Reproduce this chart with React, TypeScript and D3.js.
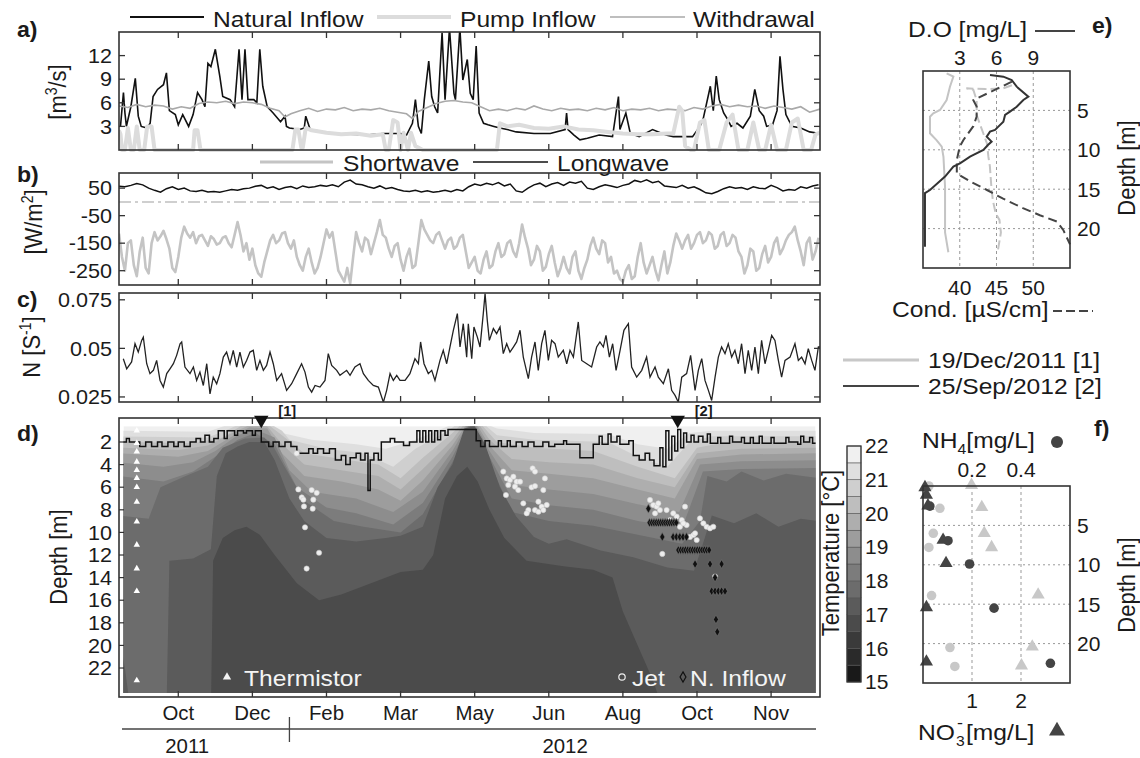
import React from "react";
import * as d3 from "d3";

const FONT = "'Liberation Sans', Arial, Helvetica, sans-serif";
const SX = 1.12;

// ---------- time axis ----------
const START = new Date(2011, 8, 14);
const END = new Date(2012, 11, 30);
const toDate = (d: number) => new Date(START.getTime() + d * 86400000);
const parse = d3.timeParse("%Y-%m-%d");
const MONTH_TICKS = ["2011-10-24", "2011-12-13", "2012-02-01", "2012-03-22", "2012-05-11", "2012-06-30", "2012-08-19", "2012-10-08", "2012-11-27"];
const PROFILE_DATES = ["2011-12-19", "2012-09-25"];
const PROFILE_LABELS = ["19/Dec/2011 [1]", "25/Sep/2012 [2]"];
const YEAR_LABELS = [["2011", "2011-10-30"], ["2012", "2012-07-11"]];
const YEAR_DIVIDER = "2012-01-07";

// ---------- a) flows [day, m3/s] ----------
const NATURAL: [number, number][] = [[1,3],[3,7.3],[4,4.7],[5,3],[8,5.5],[11,9.1],[13,4.3],[15,3],[19,2.8],[21,3.4],[23,6.8],[26,7.7],[30,8.3],[32,9.8],[34,5],[38,4.5],[40,3.2],[43,4.5],[47,3],[50,4.5],[53,7.3],[56,6.4],[58,5.5],[60,11],[62,10.6],[65,12.8],[68,9.4],[70,6.8],[75,6.4],[78,5.5],[81,12.8],[83,6.4],[85,12.8],[87,6.4],[91,6.4],[93,6],[95,12.8],[97,8.1],[100,5.5],[104,4.7],[109,3.6],[112,4.3],[113,3],[115,2.8],[122,2.6],[125,2.8],[126,4.3],[129,2.6],[145,2.1],[167,1.9],[178,2.1],[190,2.1],[194,1.9],[198,3.4],[200,6.4],[202,3],[204,2.1],[206,6.4],[209,11.3],[211,6.8],[213,5.5],[215,4.7],[218,14.9],[220,6.4],[223,15.5],[226,7.2],[227,6.4],[230,15.5],[232,8.9],[235,11.5],[237,7.2],[239,6.4],[241,13.2],[243,4.7],[246,3.4],[249,3.2],[253,3],[257,2.8],[262,2.6],[268,2.3],[280,2.1],[291,2.1],[301,2.6],[302,4.7],[303,2.6],[307,1.9],[311,1.3],[316,1.5],[324,1.9],[333,1.7],[337,6.8],[338,2.6],[342,4.7],[345,2.1],[351,1.7],[360,2.6],[369,1.9],[374,1.7],[387,1.7],[392,3],[394,3.8],[399,8.1],[401,5],[403,9.4],[405,6.4],[408,4.7],[411,3.8],[413,3],[417,3.4],[421,2.8],[426,4.3],[429,7.7],[432,5],[435,4.3],[437,3],[441,3.2],[444,5],[446,11.9],[448,7.7],[450,4.5],[454,3],[460,2.8],[466,2.3],[473,2.1]];
const PUMP: [number, number][] = [[0,2.5],[1,2],[2,0],[4,0],[6,2.8],[8,0],[10,0],[12,3],[14,0],[17,0],[19,3],[22,3],[24,0],[50,0],[51,2.5],[53,2.5],[55,0],[117,0],[119,2.6],[121,2.6],[123,0.3],[124,0.3],[126,2.8],[130,2.5],[140,2.2],[150,2.0],[160,2.1],[170,1.8],[178,2.0],[180,0],[182,0],[185,3.8],[188,3.5],[190,0],[192,2.2],[195,0],[197,2.2],[200,0.5],[205,0],[255,0],[257,3.4],[262,3.0],[270,3.2],[280,2.8],[290,2.7],[300,3.0],[310,2.6],[320,2.5],[330,2.3],[340,2.1],[350,2.0],[360,2.0],[370,2.1],[374,2.1],[378,5.5],[380,5],[382,0.5],[386,0],[388,0],[392,3.5],[395,3.8],[398,0],[405,0],[410,3.5],[414,4.5],[418,0],[424,0],[428,3.5],[432,0],[436,0],[440,3.2],[444,0],[450,0],[454,3.5],[458,4.0],[462,0],[467,0],[470,2.0],[473,2.2]];
const WITHDRAWAL: [number, number][] = [[0,5.6],[6,5.4],[12,5.8],[18,5.5],[24,5.7],[30,5.6],[36,5.2],[42,5.5],[48,5.3],[54,5.9],[60,6.1],[66,6.0],[72,6.2],[78,5.9],[84,6.1],[90,6.0],[96,5.8],[102,5.3],[108,5.0],[112,4.2],[116,4.6],[122,5.0],[128,5.3],[134,4.9],[140,5.2],[146,5.1],[152,5.4],[158,5.0],[164,5.2],[170,5.1],[176,5.3],[182,5.0],[188,4.8],[194,4.6],[198,4.0],[202,4.9],[208,5.4],[214,5.9],[220,6.2],[226,6.3],[232,6.1],[238,6.0],[244,5.5],[250,5.0],[256,5.2],[262,5.0],[268,5.3],[274,5.1],[280,5.6],[286,5.2],[292,5.0],[298,5.3],[304,5.1],[310,5.2],[316,5.0],[322,5.3],[328,5.1],[334,5.4],[340,5.0],[346,5.2],[352,5.1],[358,5.3],[364,5.0],[370,5.2],[376,5.1],[382,5.0],[388,5.4],[394,5.2],[400,5.6],[406,5.8],[412,5.5],[418,5.7],[424,5.5],[430,5.6],[436,5.3],[442,5.6],[448,5.4],[454,5.2],[460,5.5],[466,4.8],[473,5.2]];

// ---------- b) radiation [W/m2] ----------
const SW_STEP = 2; // one value every 2 days
const SHORTWAVE = [-115,-200,-250,-150,-140,-230,-270,-180,-130,-240,-260,-150,-110,-140,-125,-105,-135,-170,-240,-255,
  -200,-130,-90,-115,-130,-110,-150,-125,-120,-140,-160,-125,-135,-155,-150,-130,-125,-150,-165,-120,
  -73,-120,-180,-150,-210,-170,-230,-260,-272,-220,-180,-140,-120,-150,-140,-115,-110,-150,-170,-140,
  -200,-230,-250,-200,-170,-220,-260,-240,-200,-150,-100,-130,-110,-180,-250,-270,-290,-240,-297,-200,
  -110,-150,-180,-130,-140,-190,-150,-110,-66,-120,-130,-170,-200,-160,-150,-210,-250,-200,-170,-240,
  -230,-150,-66,-100,-120,-140,-150,-120,-110,-140,-170,-140,-130,-170,-160,-130,-120,-180,-240,-220,
  -200,-250,-260,-210,-180,-240,-230,-180,-150,-200,-190,-150,-140,-180,-200,-150,-82,-130,-170,-230,
  -210,-160,-180,-250,-236,-190,-160,-220,-270,-240,-200,-240,-260,-200,-180,-250,-280,-240,-210,-160,
  -130,-170,-190,-140,-150,-220,-200,-260,-250,-280,-290,-250,-230,-280,-270,-200,-150,-220,-260,-230,
  -200,-250,-285,-230,-180,-260,-220,-160,-115,-140,-170,-140,-120,-170,-150,-120,-110,-150,-140,-110,
  -120,-170,-160,-120,-110,-160,-150,-120,-130,-180,-200,-260,-230,-170,-180,-250,-240,-190,-160,-220,
  -200,-150,-130,-190,-170,-140,-120,-110,-90,-140,-180,-230,-150,-130,-210,-180,-130];
const LW_STEP = 4; // one value every 4 days
const LONGWAVE = [57,55,60,67,62,50,42,35,48,55,45,50,40,38,42,36,38,35,40,45,42,48,50,57,60,50,55,45,52,56,48,58,52,55,60,57,62,55,72,79,65,62,55,50,58,48,52,45,40,38,42,36,40,35,38,42,37,45,40,55,65,60,68,62,70,58,65,40,35,50,62,68,55,65,70,60,72,68,75,50,45,55,62,58,52,60,65,78,72,80,70,75,58,55,52,60,50,55,45,33,30,38,48,55,50,52,45,55,50,48,60,52,40,45,42,55,50,58,62];

// ---------- c) buoyancy frequency [day, 1/s] ----------
const NFREQ: [number, number][] = [[2.9,0.0447],[5.2,0.0395],[8.5,0.043],[10.8,0.0524],[13,0.0481],[15.3,0.0541],[16.4,0.0558],[18.7,0.0421],[20.9,0.037],[23.2,0.0387],[25.4,0.0438],[27.7,0.0335],[29.9,0.0301],[32.2,0.037],[34.4,0.0395],[36.7,0.0421],[38.9,0.0464],[41.2,0.0524],[42.3,0.0533],[44.5,0.0404],[47.9,0.037],[50.2,0.0404],[52.4,0.0335],[54.6,0.0378],[56.9,0.0309],[59.2,0.0421],[61.4,0.0266],[63.6,0.0352],[65.9,0.0318],[68.1,0.037],[70.4,0.0455],[72.6,0.0481],[74.9,0.0421],[77.1,0.049],[79.4,0.0404],[81.6,0.0481],[83.9,0.0404],[86.1,0.0438],[88.4,0.0481],[90.6,0.049],[92.9,0.0387],[95.1,0.0438],[97.4,0.0387],[99.6,0.0412],[101.9,0.0481],[104.1,0.0421],[106.4,0.0335],[109.7,0.037],[113.1,0.0284],[116.5,0.0318],[119.9,0.037],[123.2,0.0421],[125.5,0.0378],[127.8,0.0301],[130,0.0275],[132.3,0.0309],[135.6,0.0301],[139,0.0335],[141.2,0.0473],[143.5,0.0412],[146.9,0.0387],[149.1,0.0361],[153.6,0.0387],[155.9,0.0361],[159.2,0.0404],[162.6,0.0421],[164.9,0.037],[168.2,0.0335],[171.6,0.0309],[175,0.0301],[178.4,0.0223],[180.6,0.0284],[182.9,0.037],[185.1,0.0335],[187.4,0.0361],[189.6,0.0335],[193,0.0335],[196.3,0.037],[199.7,0.0447],[202,0.0421],[203.5,0.0533],[205.8,0.0421],[208.7,0.037],[211,0.0387],[213.2,0.0335],[216.6,0.0438],[218.8,0.049],[221.1,0.0421],[223.3,0.0507],[225.6,0.0593],[228.3,0.0679],[230.1,0.0507],[232.3,0.0627],[234.6,0.0455],[235.7,0.0627],[238,0.0447],[239.5,0.061],[241.8,0.0558],[243.6,0.0507],[245.8,0.0679],[247,0.0782],[248.5,0.0644],[249.9,0.0541],[252.6,0.0602],[254.8,0.0576],[257.1,0.061],[259.3,0.0473],[261.6,0.0524],[263.8,0.0481],[266.1,0.0507],[268.3,0.0533],[270.6,0.0593],[272.8,0.0455],[276.2,0.0344],[278.4,0.0455],[280.7,0.0533],[282.9,0.0387],[285.2,0.0524],[287.4,0.0593],[289.7,0.0438],[291.9,0.0541],[294.2,0.0524],[296.4,0.0455],[299.8,0.049],[302.1,0.0421],[304.3,0.049],[306.6,0.0455],[309.9,0.0636],[312.2,0.0438],[315.6,0.0421],[318.9,0.0404],[322.3,0.0507],[324.5,0.0533],[326.8,0.0507],[328.6,0.0567],[330.9,0.0455],[333.1,0.0524],[335.4,0.0387],[338.1,0.049],[340.7,0.0593],[343.7,0.0627],[345.9,0.0404],[349.3,0.0352],[352.7,0.0387],[356,0.0455],[358.3,0.0352],[361.7,0.0404],[363.9,0.0352],[367.3,0.0318],[370.7,0.0395],[372.9,0.0284],[375.2,0.0258],[377.4,0.0223],[379.7,0.0352],[383,0.037],[385.7,0.0464],[388.7,0.0284],[390.9,0.0387],[393.2,0.0447],[395.4,0.0335],[397.7,0.0284],[399.9,0.0232],[402.2,0.0352],[404.4,0.0455],[406.6,0.0507],[408.9,0.0473],[411.1,0.0524],[413.4,0.0455],[415.6,0.049],[417.9,0.0421],[420.1,0.0524],[422.4,0.037],[424.6,0.049],[426.9,0.0387],[429.1,0.0507],[431.4,0.037],[433.6,0.0541],[435.9,0.0421],[438.1,0.049],[440.4,0.0567],[442.6,0.0541],[444.9,0.0438],[447.1,0.0352],[449.4,0.0438],[452.8,0.0455],[456.1,0.0524],[458.4,0.0438],[460.6,0.0455],[462.9,0.0421],[465.1,0.0498],[467.4,0.0438],[469.6,0.0387],[471.9,0.0507],[473,0.0507]];

// ---------- d) isotherm depths [day, m] ----------
const ISO_215: [number, number][] = [[0,1.0],[60,1.1],[75,0.4],[85,0.1],[100,0.1],[110,1.2],[130,1.8],[160,2.2],[180,2.6],[200,1.8],[222,0.6],[240,0],[255,0.8],[280,1.2],[330,1.3],[350,2.2],[370,2.6],[385,1.2],[400,1.0],[473,1.0]];
const ISO_21: [number, number][] = [[0,1.5],[60,1.6],[75,0.8],[85,0.2],[100,0.25],[110,1.0],[115,1.8],[140,2.6],[165,3.0],[185,4.2],[200,2.6],[222,1.0],[238,-0.5],[255,1.4],[280,1.8],[330,2.0],[350,3.3],[370,4.2],[385,2.0],[400,1.5],[473,1.5]];
const ISO_205: [number, number][] = [[0,2.0],[50,2.1],[70,1.6],[85,0.35],[100,0.4],[110,1.4],[125,3.0],[150,3.5],[175,4.0],[190,5.2],[205,3.4],[225,1.2],[238,-0.5],[255,2.0],[280,2.5],[320,2.8],[350,4.2],[375,5.2],[390,2.5],[410,2.0],[473,2.0]];
const ISO_20: [number, number][] = [[0,2.5],[40,2.7],[60,2.3],[75,1.3],[88,0.5],[100,0.6],[110,2.2],[125,4.0],[150,4.5],[175,5.0],[190,6.2],[205,4.4],[225,1.8],[238,-0.5],[250,1.8],[265,3.5],[290,3.8],[320,4.0],[350,5.2],[375,6.0],[390,3.0],[420,2.6],[473,2.5]];
const ISO_195: [number, number][] = [[0,3.0],[40,3.3],[60,2.8],[75,1.6],[88,0.7],[100,0.8],[110,3.0],[125,5.0],[150,5.5],[175,6.2],[190,7.2],[205,5.4],[225,2.3],[238,-0.3],[250,2.3],[265,4.5],[290,4.8],[320,5.2],[350,6.2],[375,7.0],[390,3.5],[420,3.1],[473,3.0]];
const ISO_19: [number, number][] = [[0,3.8],[30,4.2],[50,3.8],[65,2.8],[80,1.4],[92,0.9],[105,1.6],[115,4.5],[130,6.4],[160,7.0],[185,8.2],[205,6.4],[225,2.8],[238,-0.2],[250,2.8],[265,5.8],[290,6.2],[320,6.6],[350,7.5],[378,8.2],[392,4.0],[420,3.7],[473,3.6]];
const ISO_185: [number, number][] = [[0,5.0],[30,5.5],[50,4.6],[65,3.3],[80,1.8],[92,1.2],[105,2.2],[120,6.0],[140,7.8],[160,8.3],[185,9.3],[205,7.4],[225,3.3],[238,0],[250,3.3],[265,7.0],[290,7.6],[320,8.0],[350,9.0],[380,9.6],[394,4.6],[420,4.4],[473,4.3]];
const ISO_18: [number, number][] = [[0,8.5],[20,8.8],[28,6.0],[45,5.0],[60,4.2],[70,2.5],[85,1.7],[98,1.6],[105,2.6],[110,3.8],[125,7.2],[145,9.0],[165,9.5],[190,10.0],[205,8.4],[225,3.8],[238,0.3],[250,3.8],[265,8.2],[290,9.0],[320,9.4],[350,10.2],[380,11.0],[392,9.0],[397,5.0],[410,5.5],[420,4.6],[435,5.4],[450,4.8],[473,5.2]];
const ISO_175: [number, number][] = [[0,19],[4,22],[8,26],[32,26],[34,12.5],[50,12.3],[62,11.5],[66,5.0],[72,3.0],[80,2.4],[88,2.0],[98,2.0],[105,3.6],[115,7.0],[125,9.0],[140,10.5],[160,10.8],[180,10.5],[190,10.3],[205,9.5],[215,6.0],[225,4.0],[233,0.8],[240,0.6],[247,2.2],[257,6.0],[268,8.6],[280,10.4],[290,11.0],[302,10.6],[325,11.6],[347,12.2],[370,13.1],[388,13.4],[394,11],[400,8.5],[415,9.2],[430,8.3],[445,9.5],[460,8.8],[473,9.0]];
const ISO_17: [number, number][] = [[0,26],[62,26],[63.5,12.5],[70,10.5],[78,9.8],[86,9.5],[95,10.2],[105,12],[120,14.5],[135,16],[150,15.5],[170,14.5],[190,13.5],[205,13.3],[212,12],[220,7],[228,5],[235,4.2],[242,5.5],[250,8],[260,10.5],[275,12.5],[300,13],[320,13.3],[333,14],[340,17],[350,20],[360,23],[368,26],[473,26]];
const ISOTHERMS: [number, [number, number][]][] = [[21.5, ISO_215], [21, ISO_21], [20.5, ISO_205], [20, ISO_20], [19.5, ISO_195], [19, ISO_19], [18.5, ISO_185], [18, ISO_18], [17.5, ISO_175], [17, ISO_17]];
const CB_LEVELS = d3.range(15, 22.001, 0.5);
const CB_LABELS = [15, 16, 17, 18, 19, 20, 21, 22];

// mixed layer depth [day, m]
const MLD: [number, number][] = [[0,2.0],[5,1.7],[7,2.0],[14,2.4],[18,2.0],[22,2.4],[26,2.0],[29,2.4],[33,2.0],[37,2.4],[40,2.0],[44,2.4],[48,2.0],[52,1.7],[55,2.0],[58,1.4],[61,2.0],[64,1.7],[67,1.0],[71,1.7],[73,1.0],[78,1.4],[80,1.0],[84,1.2],[86,1.0],[90,1.4],[92,1.0],[96,2.0],[101,2.4],[104,2.0],[108,2.4],[112,2.0],[116,2.4],[120,3.0],[128,2.6],[131,3.0],[134,2.6],[138,3.0],[142,2.6],[146,3.6],[150,3.2],[153,4.0],[156,3.4],[160,3.0],[163,3.6],[166,3.0],[168,6.3],[169.5,3.6],[172,3.0],[175,3.6],[177,2.0],[183,1.7],[186,2.0],[192,2.3],[196,2.0],[201,1.0],[203,2.0],[205,1.0],[207,2.0],[209,1.0],[211,2.0],[213,1.0],[215,1.8],[217,1.0],[220,1.4],[222,0.9],[241,1.9],[244,2.4],[247,1.9],[250,2.4],[256,1.9],[258,2.4],[262,1.9],[264,2.4],[268,2.0],[272,2.4],[276,2.0],[280,2.4],[286,2.0],[290,2.4],[294,2.2],[300,1.9],[302,2.2],[311,3.4],[320,2.2],[324,1.5],[326,2.2],[330,1.3],[332,2.0],[336,1.5],[338,2.2],[344,1.9],[347,3.2],[351,3.6],[355,3.0],[358,3.6],[361,4.1],[365,2.5],[367,4.2],[369,1.0],[371,3.6],[373,1.5],[375,2.8],[377,0.9],[379,2.5],[381,1.2],[383,2.0],[386,1.4],[388,2.0],[391,1.5],[394,2.0],[397,1.3],[399,2.1],[404,1.6],[406,2.1],[412,1.5],[414,2.0],[420,1.6],[422,2.1],[426,1.6],[428,2.1],[432,1.5],[434,2.1],[440,1.6],[442,2.1],[450,1.6],[452,2.0],[458,2.2],[460,1.5],[462,2.0],[466,1.6],[468,2.1],[473,2.1]];

const THERMISTOR_DAY = 12;
const THERMISTOR_DEPTHS = [1.0, 2.1, 2.85, 3.75, 4.5, 5.2, 6.0, 7.3, 9.05, 11.1, 13.2, 15.2, 23.1];
const JET: [number, number][] = [[119.9,3.0],[121,6.2],[123.3,6.9],[124.4,7.1],[124.8,7.7],[130,6.25],[133.4,6.5],[131.1,7.1],[130.7,7.9],[125.5,9.55],[135,11.8],[126.6,13.2],[259.3,4.62],[261.6,5.22],[263.8,5.36],[266.1,5.07],[268.3,5.51],[270.6,5.51],[262.7,5.8],[267.2,5.95],[269.4,6.25],[279.1,4.33],[280.7,4.62],[287.4,5.22],[278.4,6.01],[280.7,5.9],[286.3,6.25],[261.1,6.69],[272.8,7.43],[276.2,8.02],[275.1,8.31],[280.7,8.02],[283,7.28],[285.2,7.72],[288.6,7.57],[286.3,8.02],[283,8.17],[358.3,7.13],[360.5,7.58],[362.8,7.72],[363.9,7.43],[365,8.02],[361.7,8.31],[369.5,8.02],[374,8.31],[376.3,8.6],[379.7,8.9],[381.9,7.72],[383,9.35],[385.3,10.4],[387.5,10.23],[389.8,10.67],[388.7,10.08],[392,8.76],[394.3,9.2],[396.5,9.5],[398.8,9.64],[401,9.5],[366.6,11.9],[371.8,8.9],[375.2,9.2],[378.5,9.5],[380.8,9.2],[402.2,13.9]];
const NINFLOW: [number, number][] = [[357.2,7.9],[358,9.14],[359.5,9.14],[361,9.14],[362.5,9.14],[364,9.14],[365.5,9.14],[367,9.14],[368.5,9.14],[370,9.14],[371.5,9.14],[373,9.14],[374.5,9.14],[376,9.14],[366.6,10.4],[373.9,10.4],[376.1,10.4],[378.4,10.4],[380.6,10.4],[382.9,10.4],[377.4,11.56],[379,11.56],[380.6,11.56],[382.2,11.56],[383.8,11.56],[385.4,11.56],[387,11.56],[388.6,11.56],[390.2,11.56],[391.8,11.56],[393.4,11.56],[395,11.56],[396.6,11.56],[398.2,11.56],[388.7,12.8],[398.8,12.8],[406.6,12.8],[402.2,14],[399.9,15.2],[402.2,15.2],[404.4,15.2],[406.6,15.2],[408.9,15.2],[402.8,17.7],[403.7,18.8]];

// ---------- e) profiles [value, depth] ----------
const DO_1: [number, number][] = [[1.93,0.3],[2.48,0.7],[2.2,1.99],[1.93,3.68],[1.39,4.95],[0.84,5.37],[0.57,5.8],[0.57,7.9],[1.12,8.8],[1.53,9.6],[1.67,10.9],[1.8,14.7],[1.8,20.5],[2.07,23.0]];
const DO_2: [number, number][] = [[5.47,0.5],[6.56,0.72],[7.24,1.14],[7.65,1.99],[8.6,3.26],[8.19,3.68],[7.65,4.53],[7.1,5.16],[6.7,5.58],[6.56,6.43],[6.15,7.06],[5.88,7.48],[5.47,7.69],[5.2,8.33],[5.6,8.96],[5.3,9.39],[4.93,10.02],[3.84,10.87],[3.02,11.72],[2.48,12.14],[1.8,13.4],[0.57,15.1],[0.16,15.5],[0.16,22.3]];
const COND_1: [number, number][] = [[47.1,1.8],[45.9,2.2],[43.5,2.3],[40.9,2.2],[41.85,2.4],[42.3,3.7],[42.3,5.6],[43.2,7.9],[43.7,9.2],[43.9,10.9],[44.1,12.1],[44.3,14.7],[44.5,16.4],[44.9,18.1],[45.4,18.9],[45.6,20.5],[45.2,22.7]];
const COND_2: [number, number][] = [[47.1,1.35],[41.85,3.7],[42.3,4.5],[42.3,5.8],[41.85,7.0],[40.5,8.75],[40.0,9.6],[39.6,11.3],[39.6,13.0],[41.4,14.0],[43.7,15.1],[45.9,16.2],[48.6,17.4],[50.9,18.3],[53.2,19.1],[54.1,20.2],[54.5,21.0],[55,22.0]];

// ---------- f) nutrients [value, depth] ----------
const NH4_1: [number, number][] = [[0.024,0],[0.069,2.83],[0.042,6.0],[0.024,7.8],[0.035,13.9],[0.11,20.5],[0.13,22.9]];
const NH4_2: [number, number][] = [[0.028,2.55],[0.102,6.94],[0.19,9.9],[0.29,15.5],[0.52,22.5]];
const NO3_1: [number, number][] = [[0.99,-0.1],[1.2,2.7],[1.25,6.0],[1.4,7.8],[2.35,13.8],[2.23,20.4],[2.01,22.8]];
const NO3_2: [number, number][] = [[0.04,0.17],[0.07,1.14],[0.1,2.5],[0.41,6.85],[0.47,9.8],[0.07,15.4],[0.07,22.3]];

// ---------- helpers ----------
function T(p: any) {
  const { x, y, size = 20, anchor = "start", weight = 400, fill = "#1a1a1a", rot = 0, base, sx = SX, children } = p;
  const tr = rot ? `translate(${x},${y}) rotate(${rot}) scale(1,${sx})` : `translate(${x},${y}) scale(${sx},1)`;
  return (
    <text transform={tr} fontSize={size} textAnchor={anchor} fontWeight={weight} fill={fill} fontFamily={FONT} dominantBaseline={base}>
      {children}
    </text>
  );
}

const grayBand = (i: number) => {
  const g = Math.round(25 + 16.5 * i);
  return `rgb(${g},${g},${g})`;
};

export default function App() {
  const X0 = 119, X1 = 820;
  const x = d3.scaleTime().domain([START, END]).range([X0, X1]);
  const xd = (d: number) => x(toDate(d));
  const ticks = MONTH_TICKS.map((s) => parse(s) as Date);
  const fmt = d3.timeFormat("%b");

  const A = { top: 32, bot: 150 };
  const B = { top: 173, bot: 285 };
  const C = { top: 293, bot: 402 };
  const D = { top: 418, bot: 697 };
  const yA = d3.scaleLinear().domain([0, 15]).range([A.bot, A.top]);
  const yB = d3.scaleLinear().domain([-302, 105]).range([B.bot, B.top]);
  const yC = d3.scaleLinear().domain([0.0224, 0.0785]).range([C.bot, C.top]);
  const yD = d3.scaleLinear().domain([0, 24.6]).range([419.4, 697.4]);

  const lineA = d3.line<[number, number]>().x((d) => xd(d[0])).y((d) => yA(d[1]));
  const lineSW = d3.line<number>().x((_, i) => xd(i * SW_STEP)).y((d) => yB(d));
  const lineLW = d3.line<number>().x((_, i) => xd(i * LW_STEP)).y((d) => yB(d));
  const lineC = d3.line<[number, number]>().x((d) => xd(d[0])).y((d) => yC(d[1]));
  const mldLine = d3.line<[number, number]>().x((d) => xd(d[0])).y((d) => yD(d[1])).curve(d3.curveStepAfter);
  const isoArea = d3.area<[number, number]>().x((d) => xd(d[0])).y0((d) => yD(d[1])).y1(yD(26));

  const fieldX0 = xd(3), fieldX1 = xd(470), fieldY0 = yD(0.6), fieldY1 = yD(24.2);

  const xTicksFor = (top: number, bot: number) =>
    ticks.map((t, i) => (
      <g key={i}>
        <line x1={x(t)} x2={x(t)} y1={top} y2={top + 6} stroke="#333" strokeWidth={1.3} />
        <line x1={x(t)} x2={x(t)} y1={bot} y2={bot - 6} stroke="#333" strokeWidth={1.3} />
      </g>
    ));
  const yTicksFor = (vals: number[], ys: any, labels: string[], both = true) =>
    vals.map((v, i) => (
      <g key={i}>
        <line x1={X0} x2={X0 + 6} y1={ys(v)} y2={ys(v)} stroke="#333" strokeWidth={1.3} />
        {both && <line x1={X1} x2={X1 - 6} y1={ys(v)} y2={ys(v)} stroke="#333" strokeWidth={1.3} />}
        <T x={112} y={ys(v)} anchor="end" base="central" size={20} sx={1.08}>{labels[i]}</T>
      </g>
    ));
  const box = (top: number, bot: number) => (
    <rect x={X0} y={top} width={X1 - X0} height={bot - top} fill="none" stroke="#333" strokeWidth={1.6} />
  );

  // right panels
  const EX0 = 923, EX1 = 1070;
  const xDO = d3.scaleLinear().domain([0, 12]).range([EX0, EX1]);
  const xCond = d3.scaleLinear().domain([35, 55]).range([EX0, EX1]);
  const yE = d3.scaleLinear().domain([0, 25]).range([71, 268]);
  const xNH4 = d3.scaleLinear().domain([0, 0.6]).range([EX0, EX1]);
  const xNO3 = d3.scaleLinear().domain([0, 3]).range([EX0, EX1]);
  const yF = d3.scaleLinear().domain([0, 25]).range([486, 683]);
  const lineDO = d3.line<[number, number]>().x((d) => xDO(d[0])).y((d) => yE(d[1]));
  const lineCond = d3.line<[number, number]>().x((d) => xCond(d[0])).y((d) => yE(d[1]));
  const yCB = d3.scaleLinear().domain([15, 22]).range([682, 446]);

  const tri = d3.symbol().type(d3.symbolTriangle);
  const dia = d3.symbol().type(d3.symbolDiamond);
  const depthTicks = [5, 10, 15, 20];

  return (
    <svg width={1140} height={758} style={{ position: "absolute", left: 0, top: 0, display: "block" }} xmlns="http://www.w3.org/2000/svg">
      <rect width={1140} height={758} fill="#fff" />
      <defs>
        <clipPath id="fieldClip">
          <rect x={fieldX0} y={fieldY0} width={fieldX1 - fieldX0} height={fieldY1 - fieldY0} />
        </clipPath>
        <clipPath id="aClip"><rect x={X0} y={A.top} width={X1 - X0} height={A.bot - A.top + 2} /></clipPath>
        <clipPath id="bClip"><rect x={X0} y={B.top} width={X1 - X0} height={B.bot - B.top} /></clipPath>
        <clipPath id="cClip"><rect x={X0} y={C.top} width={X1 - X0} height={C.bot - C.top} /></clipPath>
      </defs>

      {/* ===== a) ===== */}
      <T x={17} y={37} size={22} weight={700} sx={1.05}>a)</T>
      <line x1={130} x2={204} y1={17} y2={17} stroke="#111" strokeWidth={1.8} />
      <T x={213} y={27} size={22}>Natural Inflow</T>
      <line x1={377} x2={451} y1={17} y2={17} stroke="#dcdcdc" strokeWidth={4} />
      <T x={460} y={27} size={22}>Pump Inflow</T>
      <line x1={610} x2={685} y1={17} y2={17} stroke="#a9a9a9" strokeWidth={1.6} />
      <T x={693} y={27} size={22}>Withdrawal</T>
      <g clipPath="url(#aClip)">
        <path d={lineA(NATURAL) || ""} fill="none" stroke="#111" strokeWidth={1.6} />
        <path d={lineA(WITHDRAWAL) || ""} fill="none" stroke="#a9a9a9" strokeWidth={1.6} />
        <path d={lineA(PUMP) || ""} fill="none" stroke="#dcdcdc" strokeWidth={4} strokeLinejoin="round" />
      </g>
      {box(A.top, A.bot)}
      {xTicksFor(A.top, A.bot)}
      {yTicksFor([3, 6, 9, 12], yA, ["3", "6", "9", "12"])}
      <T x={66} y={92} rot={-90} anchor="middle" size={22}>
        [m<tspan dy={-8} fontSize={14}>3</tspan><tspan dy={8}>/s]</tspan>
      </T>

      {/* ===== b) ===== */}
      <T x={17} y={182} size={22} weight={700} sx={1.05}>b)</T>
      <line x1={260} x2={333} y1={162} y2={162} stroke="#c4c4c4" strokeWidth={3} />
      <T x={343} y={171} size={22}>Shortwave</T>
      <line x1={473} x2={548} y1={162} y2={162} stroke="#111" strokeWidth={1.6} />
      <T x={557} y={171} size={22}>Longwave</T>
      <g clipPath="url(#bClip)">
        <line x1={X0} x2={X1} y1={yB(0)} y2={yB(0)} stroke="#cfcfcf" strokeWidth={2} strokeDasharray="12,4,3,4" />
        <path d={lineSW(SHORTWAVE) || ""} fill="none" stroke="#c4c4c4" strokeWidth={2.6} strokeLinejoin="round" />
        <path d={lineLW(LONGWAVE) || ""} fill="none" stroke="#111" strokeWidth={1.5} />
      </g>
      {box(B.top, B.bot)}
      {xTicksFor(B.top, B.bot)}
      {yTicksFor([50, -50, -150, -250], yB, ["50", "-50", "-150", "-250"])}
      <T x={42} y={222} rot={-90} anchor="middle" size={22}>
        [W/m<tspan dy={-8} fontSize={14}>2</tspan><tspan dy={8}>]</tspan>
      </T>

      {/* ===== c) ===== */}
      <T x={17} y={307} size={22} weight={700} sx={1.05}>c)</T>
      <g clipPath="url(#cClip)">
        <path d={lineC(NFREQ) || ""} fill="none" stroke="#222" strokeWidth={1.3} />
      </g>
      {box(C.top, C.bot)}
      {xTicksFor(C.top, C.bot)}
      {yTicksFor([0.025, 0.05, 0.075], yC, ["0.025", "0.05", "0.075"])}
      <T x={40} y={347} rot={-90} anchor="middle" size={22}>
        N [S<tspan dy={-8} fontSize={14}>-1</tspan><tspan dy={8}>]</tspan>
      </T>

      {/* ===== d) ===== */}
      <T x={17} y={441} size={22} weight={700} sx={1.05}>d)</T>
      <g clipPath="url(#fieldClip)">
        <rect x={fieldX0} y={fieldY0} width={fieldX1 - fieldX0} height={fieldY1 - fieldY0} fill={grayBand(13)} />
        {ISOTHERMS.map(([lev, pts], i) => (
          <path key={i} d={isoArea(pts) || ""} fill={grayBand(Math.round((lev - 15.5) / 0.5))} />
        ))}
        <path d={mldLine(MLD) || ""} fill="none" stroke="#111" strokeWidth={1.5} />
        {THERMISTOR_DEPTHS.map((dp, i) => (
          <path key={i} d={tri.size(18)() || ""} transform={`translate(${xd(THERMISTOR_DAY)},${yD(dp)})`} fill="#fff" />
        ))}
        {JET.map((p, i) => (
          <circle key={i} cx={xd(p[0])} cy={yD(p[1])} r={2.6} fill="#eeeeee" stroke="#d0d0d0" strokeWidth={0.6} />
        ))}
        {NINFLOW.map((p, i) => (
          <path key={i} d={dia.size(22)() || ""} transform={`translate(${xd(p[0])},${yD(p[1])})`} fill="#111" stroke="#777" strokeWidth={0.6} />
        ))}
      </g>
      {box(D.top, D.bot)}
      {xTicksFor(D.top, D.bot)}
      {[2, 4, 6, 8, 10, 12, 14, 16, 18, 20, 22].map((v, i) => (
        <g key={i}>
          <line x1={X0} x2={X0 + 5} y1={yD(v)} y2={yD(v)} stroke="#333" strokeWidth={1.2} />
          <T x={112} y={yD(v)} anchor="end" base="central" size={20} sx={1.08}>{String(v)}</T>
        </g>
      ))}
      <T x={67} y={557} rot={-90} anchor="middle" size={22}>Depth [m]</T>
      {/* legend inside d */}
      <path d={tri.size(30)() || ""} transform="translate(227,677)" fill="#f2f2f2" />
      <T x={244} y={686} size={22} fill="#f4f4f4">Thermistor</T>
      <circle cx={622} cy={677} r={3.2} fill="none" stroke="#eee" strokeWidth={1.2} />
      <T x={632} y={686} size={22} fill="#f4f4f4">Jet</T>
      <path d={dia.size(30)() || ""} transform="translate(683,677)" fill="none" stroke="#111" strokeWidth={1.2} />
      <T x={690} y={686} size={22} fill="#f4f4f4">N. Inflow</T>
      {/* profile markers */}
      {PROFILE_DATES.map((s, i) => {
        const px = x(parse(s) as Date);
        return (
          <g key={i}>
            <path d={tri.size(90)() || ""} transform={`translate(${px},${420}) rotate(180)`} fill="#111" />
            <T x={px + 17} y={416} size={14} weight={700} sx={1.05}>{`[${i + 1}]`}</T>
          </g>
        );
      })}
      {/* month labels & years */}
      {ticks.map((t, i) => (
        <T key={i} x={x(t)} y={720} anchor="middle" size={20} sx={1.02}>{fmt(t)}</T>
      ))}
      <line x1={122} x2={816} y1={729} y2={729} stroke="#444" strokeWidth={1.3} />
      <line x1={x(parse(YEAR_DIVIDER) as Date)} x2={x(parse(YEAR_DIVIDER) as Date)} y1={717} y2={742} stroke="#444" strokeWidth={1.3} />
      {YEAR_LABELS.map(([lab, s], i) => (
        <T key={i} x={x(parse(s) as Date)} y={753} anchor="middle" size={20} sx={1.02}>{lab}</T>
      ))}

      {/* colorbar */}
      {CB_LEVELS.slice(0, -1).map((lv, i) => (
        <rect key={i} x={847} y={yCB(lv + 0.5)} width={14} height={yCB(lv) - yCB(lv + 0.5)} fill={grayBand(i)} stroke="#555" strokeWidth={0.6} />
      ))}
      <rect x={847} y={446} width={14} height={236} fill="none" stroke="#333" strokeWidth={1.2} />
      {CB_LABELS.map((v, i) => (
        <T key={i} x={865} y={yCB(v)} base="central" size={20} sx={1.05}>{String(v)}</T>
      ))}
      <T x={839} y={553} rot={-90} anchor="middle" size={22} sx={1.07}>Temperature [°C]</T>

      {/* ===== right legend ===== */}
      <line x1={843} x2={919} y1={360} y2={360} stroke="#c8c8c8" strokeWidth={3} />
      <T x={928} y={368} size={22}>{PROFILE_LABELS[0]}</T>
      <line x1={843} x2={919} y1={386} y2={386} stroke="#444" strokeWidth={2} />
      <T x={928} y={394} size={22}>{PROFILE_LABELS[1]}</T>

      {/* ===== e) ===== */}
      <T x={1092} y={33} size={22} weight={700} sx={1.05}>e)</T>
      <T x={908} y={37} size={22}>D.O [mg/L]</T>
      <line x1={1035} x2={1075} y1={31} y2={31} stroke="#444" strokeWidth={2} />
      {[3, 6, 9].map((v, i) => (
        <g key={i}>
          <line x1={xDO(v)} x2={xDO(v)} y1={71} y2={268} stroke="#999" strokeWidth={1} strokeDasharray="3,3" />
          <T x={xDO(v)} y={65} anchor="middle" size={20} sx={1.05}>{String(v)}</T>
        </g>
      ))}
      {[40, 45, 50].map((v, i) => (
        <T key={i} x={xCond(v)} y={295} anchor="middle" size={20} sx={1.05}>{String(v)}</T>
      ))}
      {depthTicks.map((v, i) => (
        <g key={i}>
          <line x1={EX0} x2={EX1} y1={yE(v)} y2={yE(v)} stroke="#999" strokeWidth={1} strokeDasharray="2,3" />
          <T x={1077} y={yE(v)} base="central" size={20} sx={1.05}>{String(v)}</T>
        </g>
      ))}
      <path d={lineDO(DO_1) || ""} fill="none" stroke="#c4c4c4" strokeWidth={2} />
      <path d={lineCond(COND_1) || ""} fill="none" stroke="#c4c4c4" strokeWidth={2} strokeDasharray="9,4" />
      <path d={lineCond(COND_2) || ""} fill="none" stroke="#444" strokeWidth={2} strokeDasharray="9,5" />
      <path d={lineDO(DO_2) || ""} fill="none" stroke="#333" strokeWidth={2} />
      <rect x={EX0} y={71} width={EX1 - EX0} height={197} fill="none" stroke="#333" strokeWidth={1.6} />
      <T x={892} y={317} size={22}>Cond. [µS/cm]</T>
      <line x1={1053} x2={1093} y1={311} y2={311} stroke="#444" strokeWidth={2} strokeDasharray="9,4" />
      <T x={1135} y={168} rot={-90} anchor="middle" size={22}>Depth [m]</T>

      {/* ===== f) ===== */}
      <T x={1094} y={436} size={22} weight={700} sx={1.05}>f)</T>
      <T x={922} y={448} size={22}>
        NH<tspan dy={6} fontSize={14}>4</tspan><tspan dy={-6}>[mg/L]</tspan>
      </T>
      <circle cx={1057} cy={442} r={6} fill="#444" />
      {[0.2, 0.4].map((v, i) => (
        <T key={i} x={xNH4(v)} y={477} anchor="middle" size={20} sx={1.05}>{String(v)}</T>
      ))}
      {[1, 2].map((v, i) => (
        <g key={i}>
          <line x1={xNO3(v)} x2={xNO3(v)} y1={486} y2={683} stroke="#999" strokeWidth={1} strokeDasharray="3,3" />
          <T x={xNO3(v)} y={708} anchor="middle" size={20} sx={1.05}>{String(v)}</T>
        </g>
      ))}
      {depthTicks.map((v, i) => (
        <g key={i}>
          <line x1={EX0} x2={EX1} y1={yF(v)} y2={yF(v)} stroke="#999" strokeWidth={1} strokeDasharray="2,3" />
          <T x={1077} y={yF(v)} base="central" size={20} sx={1.05}>{String(v)}</T>
        </g>
      ))}
      {NH4_1.map((p, i) => <circle key={"a" + i} cx={xNH4(p[0])} cy={yF(p[1])} r={4.8} fill="#c8c8c8" />)}
      {NO3_1.map((p, i) => <path key={"b" + i} d={tri.size(75)() || ""} transform={`translate(${xNO3(p[0])},${yF(p[1])})`} fill="#c8c8c8" />)}
      {NH4_2.map((p, i) => <circle key={"c" + i} cx={xNH4(p[0])} cy={yF(p[1])} r={4.8} fill="#444" />)}
      {NO3_2.map((p, i) => <path key={"d" + i} d={tri.size(75)() || ""} transform={`translate(${xNO3(p[0])},${yF(p[1])})`} fill="#444" />)}
      <rect x={EX0} y={486} width={EX1 - EX0} height={197} fill="none" stroke="#333" strokeWidth={1.6} />
      <T x={918} y={740} size={22}>NO</T>
      <T x={956} y={746} size={14}>3</T>
      <T x={957} y={728} size={16}>-</T>
      <T x={966} y={740} size={22}>[mg/L]</T>
      <path d={tri.size(110)() || ""} transform="translate(1057,731)" fill="#444" />
      <T x={1135} y={585} rot={-90} anchor="middle" size={22}>Depth [m]</T>
    </svg>
  );
}
